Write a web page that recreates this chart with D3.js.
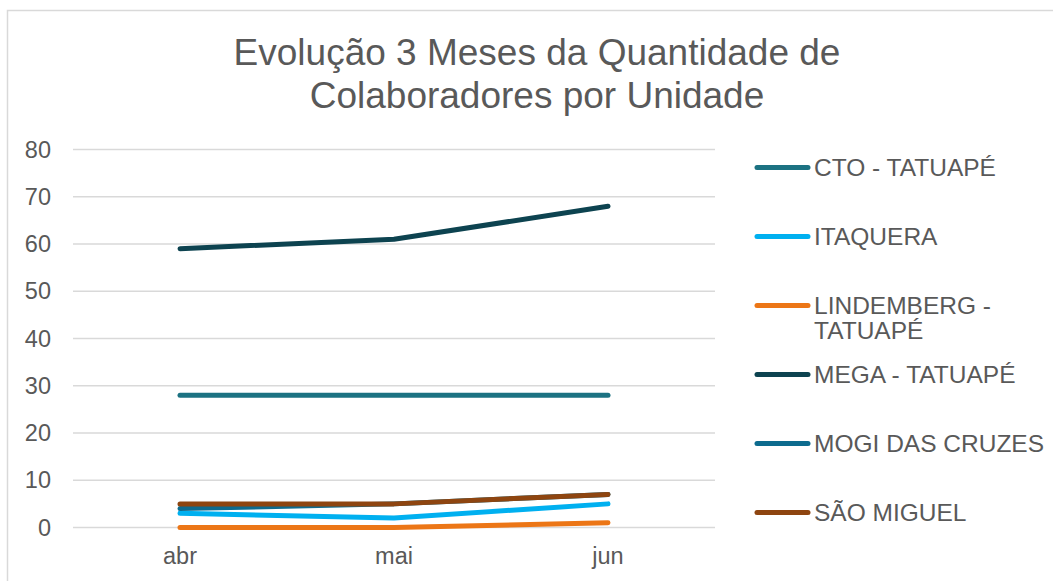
<!DOCTYPE html>
<html>
<head>
<meta charset="utf-8">
<script src="https://cdn.jsdelivr.net/npm/d3@7"></script>
<style>
  html, body { margin: 0; padding: 0; background: #fff; }
  svg { display: block; }
  text { font-family: "Liberation Sans", Arial, sans-serif; fill: #595959; }
</style>
</head>
<body>
<svg id="chart" width="1053" height="581"></svg>
<script>
const months = ["abr", "mai", "jun"];
const seriesNames = ["CTO - TATUAPÉ", "ITAQUERA", "LINDEMBERG - TATUAPÉ", "MEGA - TATUAPÉ", "MOGI DAS CRUZES", "SÃO MIGUEL"];
const ctoTatuape = [28, 28, 28];
const itaquera = [3, 2, 5];
const lindemberg = [0, 0, 1];
const megaTatuape = [59, 61, 68];
const mogiDasCruzes = [4, 5, 7];
const saoMiguel = [5, 5, 7];
const seriesColors = ["#1c7282", "#00b0f0", "#ec7616", "#0d4350", "#0d6b8e", "#8e4510"];
const yTicks = [0, 10, 20, 30, 40, 50, 60, 70, 80];
const titleLines = ["Evolução 3 Meses da Quantidade de", "Colaboradores por Unidade"];

const seriesValues = [ctoTatuape, itaquera, lindemberg, megaTatuape, mogiDasCruzes, saoMiguel];
const series = seriesNames.map((n, i) => ({ name: n, values: seriesValues[i], color: seriesColors[i] }));

const svg = d3.select("#chart");

// chart frame
svg.append("rect")
  .attr("x", 7.5).attr("y", 10.5)
  .attr("width", 1060).attr("height", 580)
  .attr("fill", "none").attr("stroke", "#d9d9d9").attr("stroke-width", 1.5);

// title
svg.append("g").selectAll("text").data(titleLines).join("text")
  .attr("x", 537).attr("y", (d, i) => 65 + i * 43)
  .attr("text-anchor", "middle")
  .style("font-size", "37px")
  .text(d => d);

const plotLeft = 73, plotRight = 715;
const x = d3.scaleBand().domain(months).range([plotLeft, plotRight]);
const y = d3.scaleLinear().domain([0, 80]).range([527.5, 149.5]);

// gridlines
svg.append("g").selectAll("line").data(yTicks).join("line")
  .attr("x1", plotLeft).attr("x2", plotRight)
  .attr("y1", d => y(d)).attr("y2", d => y(d))
  .attr("stroke", "#d9d9d9").attr("stroke-width", 1.5);

// y axis labels
const yAxis = svg.append("g").attr("transform", `translate(${plotLeft},0)`)
  .call(d3.axisLeft(y).tickValues(yTicks).tickSize(0).tickPadding(22));
yAxis.select(".domain").remove();
yAxis.selectAll("text").style("font-size", "23.5px").attr("fill", "#595959")
  .style("font-family", '"Liberation Sans", Arial, sans-serif');

// x axis labels
const xAxis = svg.append("g").attr("transform", `translate(0,${y(0)})`)
  .call(d3.axisBottom(x).tickSize(0).tickPadding(20));
xAxis.select(".domain").remove();
xAxis.selectAll("text").style("font-size", "23.5px").attr("fill", "#595959")
  .style("font-family", '"Liberation Sans", Arial, sans-serif');

// lines
const line = d3.line()
  .x((d, i) => x(months[i]) + x.bandwidth() / 2)
  .y(d => y(d));

svg.append("g").selectAll("path").data(series).join("path")
  .attr("d", d => line(d.values))
  .attr("fill", "none")
  .attr("stroke", d => d.color)
  .attr("stroke-width", 5)
  .attr("stroke-linecap", "round")
  .attr("stroke-linejoin", "round");

// legend
const legendY = [167.5, 236.5, 305.5, 374.5, 443.5, 512.5];
const leg = svg.append("g").selectAll("g").data(series).join("g")
  .attr("transform", (d, i) => `translate(0,${legendY[i]})`);
leg.append("line")
  .attr("x1", 757).attr("x2", 808).attr("y1", 0).attr("y2", 0)
  .attr("stroke", d => d.color).attr("stroke-width", 5).attr("stroke-linecap", "round");
leg.append("text")
  .attr("x", 814)
  .attr("dy", "0.36em")
  .style("font-size", "24.5px")
  .each(function(d) {
    const t = d3.select(this);
    if (d.name === "LINDEMBERG - TATUAPÉ") {
      t.append("tspan").attr("x", 814).attr("dy", "0.36em").text("LINDEMBERG -");
      t.append("tspan").attr("x", 814).attr("dy", "1.0em").text("TATUAPÉ");
      t.attr("dy", null);
    } else {
      t.text(d.name);
    }
  });
</script>
</body>
</html>
